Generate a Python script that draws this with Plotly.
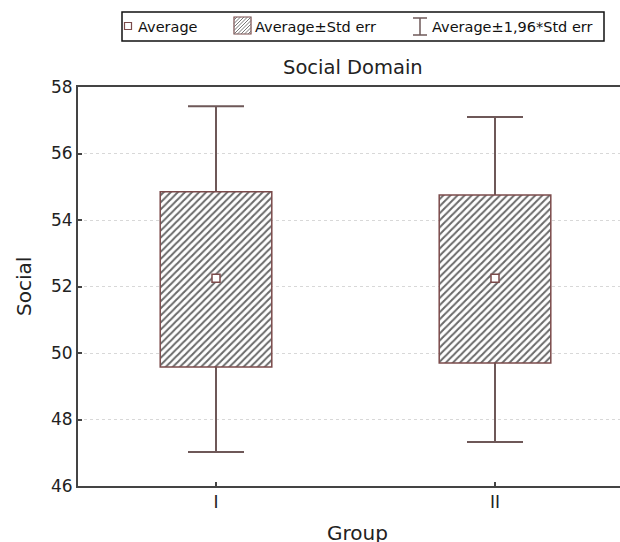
import plotly.graph_objects as go

# ---- data ----
groups = ["I", "II"]
group_pos = [0, 1]
mean_vals = [52.25, 52.25]
se_upper = [54.85, 54.75]
se_lower = [49.58, 49.70]
ci_upper = [57.42, 57.10]
ci_lower = [47.02, 47.32]
y_ticks = [46, 48, 50, 52, 54, 56, 58]

W, H = 620, 542
ML, MR, MT, MB = 78, 0, 87, 56
PW, PH = W - ML - MR, H - MT - MB

def px(x):
    return (x - ML) / PW

def py(y):
    return (H - MB - y) / PH

FONT = "DejaVu Sans"
BOX_EDGE = "#7b4b4b"
WHISK = "#6e5858"

fig = go.Figure()

# whiskers (drawn first so the hatched box covers them)
fig.add_trace(go.Bar(
    x=group_pos, y=mean_vals, base=[0, 0], width=0.4,
    marker=dict(color="rgba(0,0,0,0)", line=dict(width=0)),
    error_y=dict(type="data", symmetric=False,
                 array=[u - m for u, m in zip(ci_upper, mean_vals)],
                 arrayminus=[m - l for m, l in zip(mean_vals, ci_lower)],
                 color=WHISK, thickness=2, width=28),
    showlegend=False, hoverinfo="skip"))

# hatched boxes (mean ± std err)
fig.add_trace(go.Bar(
    x=group_pos, y=[u - l for u, l in zip(se_upper, se_lower)], base=se_lower,
    width=0.4,
    marker=dict(color="white", line=dict(color=BOX_EDGE, width=1.5),
                pattern=dict(shape="/", fgcolor="#6a6a6a", bgcolor="white",
                             size=5, solidity=0.4, fillmode="replace")),
    showlegend=False))

# means
fig.add_trace(go.Scatter(
    x=group_pos, y=mean_vals, mode="markers",
    marker=dict(symbol="square", size=8, color="white",
                line=dict(color=BOX_EDGE, width=1.5)),
    showlegend=False))

shapes = []
annotations = []

# legend frame
shapes.append(dict(type="rect", xref="paper", yref="paper",
                   x0=px(122), x1=px(604), y0=py(41), y1=py(12),
                   line=dict(color="#111", width=1.5), fillcolor="white"))
# mean symbol
shapes.append(dict(type="rect", xref="paper", yref="paper",
                   x0=px(124.5), x1=px(131.5), y0=py(29.5), y1=py(22.5),
                   line=dict(color=BOX_EDGE, width=1.2), fillcolor="white"))
# hatched square
a, b, s = 234, 17, 17
shapes.append(dict(type="rect", xref="paper", yref="paper",
                   x0=px(a), x1=px(a + s), y0=py(b + s), y1=py(b),
                   line=dict(color=BOX_EDGE, width=1.2), fillcolor="white"))
c = a + b + 3
while c < a + b + 2 * s:
    xs = max(a, c - (b + s))
    xe = min(a + s, c - b)
    shapes.append(dict(type="line", xref="paper", yref="paper",
                       x0=px(xs), y0=py(c - xs), x1=px(xe), y1=py(c - xe),
                       line=dict(color="#777", width=1)))
    c += 3.5
# I-beam symbol
shapes.append(dict(type="line", xref="paper", yref="paper",
                   x0=px(420), x1=px(420), y0=py(35), y1=py(18),
                   line=dict(color=WHISK, width=1.5)))
for yy in (18, 35):
    shapes.append(dict(type="line", xref="paper", yref="paper",
                       x0=px(413), x1=px(427), y0=py(yy), y1=py(yy),
                       line=dict(color=WHISK, width=1.5)))

leg_font = dict(family=FONT, size=14.5, color="#111")
for text, xl in (("Average", 136), ("Average±Std err", 253), ("Average±1,96*Std err", 430)):
    annotations.append(dict(text=text, xref="paper", yref="paper",
                            x=px(xl), y=py(26.5), xanchor="left", yanchor="middle",
                            showarrow=False, font=leg_font))

# title
annotations.append(dict(text="Social Domain", xref="paper", yref="paper",
                        x=px(353), y=py(67), xanchor="center", yanchor="middle",
                        showarrow=False, font=dict(family=FONT, size=19.5, color="#222")))
# x axis title
annotations.append(dict(text="Group", xref="paper", yref="paper",
                        x=px(357), y=py(533), xanchor="center", yanchor="middle",
                        showarrow=False, font=dict(family=FONT, size=20, color="#222")))
# y axis title
annotations.append(dict(text="Social", xref="paper", yref="paper",
                        x=px(24), y=py(287), xanchor="center", yanchor="middle",
                        textangle=-90, showarrow=False,
                        font=dict(family=FONT, size=20, color="#222")))

fig.update_layout(
    width=W, height=H,
    margin=dict(l=ML, r=MR, t=MT, b=MB),
    paper_bgcolor="white", plot_bgcolor="white",
    barmode="overlay",
    showlegend=False,
    shapes=shapes, annotations=annotations,
    font=dict(family=FONT, color="#222"),
)
fig.update_xaxes(
    range=[-0.4946, 1.448], tickvals=group_pos, ticktext=groups,
    showgrid=False, zeroline=False,
    showline=True, linecolor="#444", linewidth=2, mirror=True,
    ticks="inside", ticklen=4, tickcolor="#444", tickwidth=1.5,
    tickfont=dict(family=FONT, size=17, color="#222"))
fig.update_yaxes(
    range=[46, 58], tickvals=y_ticks,
    showgrid=True, gridcolor="#d8d8d8", griddash="dot", gridwidth=1,
    zeroline=False,
    showline=True, linecolor="#444", linewidth=2,
    ticks="inside", ticklen=4, tickcolor="#444", tickwidth=1.5,
    tickfont=dict(family=FONT, size=17, color="#222"))

fig.write_html("out.html")
